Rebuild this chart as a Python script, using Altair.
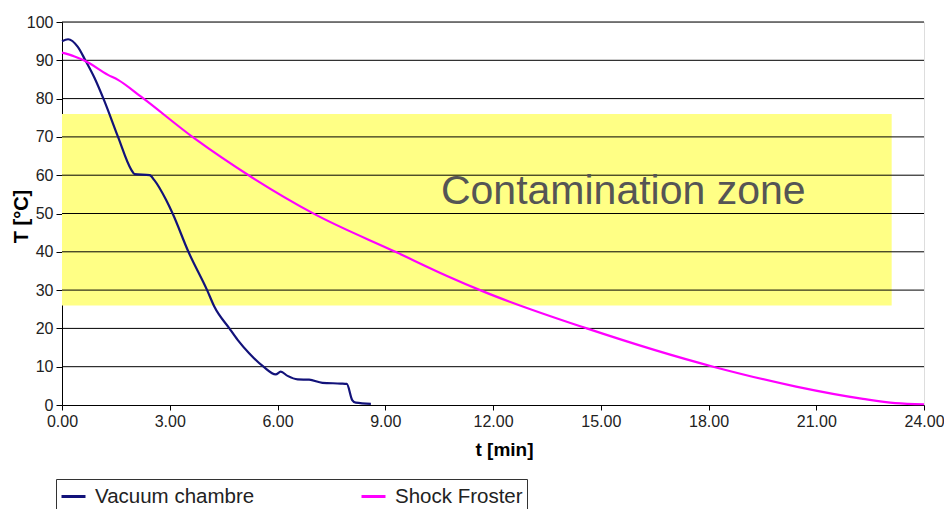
import altair as alt
import pandas as pd

vac_t = [0.0, 0.17, 0.44, 0.65, 0.9, 1.17, 1.56, 1.93, 2.02, 2.44, 2.57, 2.9, 3.08, 3.52, 4.04, 4.24, 4.66, 4.89, 5.21, 5.61, 5.95, 6.09, 6.28, 6.56, 6.88, 7.25, 7.76, 7.93, 8.08, 8.18, 8.6]
vac_T = [95.0, 95.5, 93.5, 90.0, 85.5, 79.6, 70.0, 61.4, 60.3, 60.0, 58.7, 53.5, 50.0, 40.0, 30.0, 25.7, 20.0, 17.0, 13.5, 10.0, 8.0, 8.7, 7.6, 6.7, 6.6, 5.8, 5.6, 5.5, 1.3, 0.6, 0.3]

sf_t = [0.0, 0.35, 0.65, 1.28, 1.56, 2.2, 3.69, 5.26, 7.02, 9.33, 10.72, 11.74, 14.61, 18.13, 20.44, 22.3, 23.2, 24.0]
sf_T = [92.0, 91.0, 89.8, 86.2, 84.9, 80.5, 69.6, 59.6, 49.9, 39.8, 33.7, 29.6, 20.0, 10.0, 4.8, 1.6, 0.5, 0.2]

zone_t = [0.0, 23.1]
zone_T = [26.0, 76.0]
zone_label = "Contamination zone"
label_t = 10.55
label_T = 55.6

grid_T = [10, 20, 30, 40, 50, 60, 70, 80, 90, 100]
x_ticks = [0, 3, 6, 9, 12, 15, 18, 21, 24]
y_ticks = [0, 10, 20, 30, 40, 50, 60, 70, 80, 90, 100]
series = ["Vacuum chambre", "Shock Froster"]
colors = ["#12127a", "#ff00ff"]

lines = pd.concat([
    pd.DataFrame({"t": vac_t, "T": vac_T, "series": series[0]}),
    pd.DataFrame({"t": sf_t, "T": sf_T, "series": series[1]}),
])

FONT = "Liberation Sans, Arial"
W = 862
H = 383

x_scale = alt.Scale(domain=[0, 24], nice=False)
y_scale = alt.Scale(domain=[0, 100], nice=False)

x_axis = alt.Axis(values=x_ticks, format=".2f", grid=False, labelFlush=False, labelOverlap=False,
                  domainColor="black", tickColor="black", tickSize=5,
                  labelFont=FONT, labelFontSize=16, labelColor="#222222", labelPadding=3,
                  titleFont=FONT, titleFontSize=19, titleFontWeight="bold",
                  titleColor="black", titleX=442, titleY=44, titleBaseline="middle")
y_axis = alt.Axis(values=y_ticks, grid=False, labelOverlap=False,
                  domainColor="black", tickColor="black", tickSize=6,
                  labelFont=FONT, labelFontSize=16, labelColor="#222222", labelPadding=3,
                  titleFont=FONT, titleFontSize=20, titleFontWeight="bold",
                  titleColor="black", titleX=-31, titleY=194)
X_TITLE = "t [min]"
Y_TITLE = "T [°C]"

zone = alt.Chart(pd.DataFrame({"t0": [zone_t[0]], "t1": [zone_t[1]], "T0": [zone_T[0]], "T1": [zone_T[1]]})).mark_rect(
    color="#ffff85"
).encode(
    x=alt.X("t0:Q", scale=x_scale, axis=x_axis, title=X_TITLE),
    x2="t1:Q",
    y=alt.Y("T0:Q", scale=y_scale, axis=y_axis, title=Y_TITLE),
    y2="T1:Q",
)

grid = alt.Chart(pd.DataFrame({"T": grid_T})).mark_rule(color="black", strokeWidth=1).encode(
    y=alt.Y("T:Q", scale=y_scale, axis=y_axis, title=Y_TITLE),
)

text = alt.Chart(pd.DataFrame({"t": [label_t], "T": [label_T], "label": [zone_label]})).mark_text(
    align="left", baseline="middle", fontSize=41, color="#555555", font=FONT
).encode(
    x=alt.X("t:Q", scale=x_scale, axis=x_axis, title=X_TITLE),
    y=alt.Y("T:Q", scale=y_scale, axis=y_axis, title=Y_TITLE),
    text="label:N",
)

line = alt.Chart(lines).mark_line(strokeWidth=2.2, interpolate="monotone").encode(
    x=alt.X("t:Q", scale=x_scale, axis=x_axis, title=X_TITLE),
    y=alt.Y("T:Q", scale=y_scale, axis=y_axis, title=Y_TITLE),
    color=alt.Color("series:N", scale=alt.Scale(domain=series, range=colors),
                    legend=alt.Legend(title=None, orient="none", legendX=-6, legendY=457,
                                      direction="horizontal", columns=2, columnPadding=100,
                                      gridAlign="all",
                                      symbolType="stroke", symbolStrokeWidth=3, symbolSize=576,
                                      labelOffset=8,
                                      labelFont=FONT, labelFontSize=20.5, labelColor="#222222",
                                      strokeColor="#333333", padding=4, labelLimit=300)),
)

chart = alt.layer(zone, grid, text, line).properties(
    width=W, height=H,
    autosize=alt.AutoSizeParams(type="none"),
    padding={"left": 54, "top": 14, "right": 20, "bottom": 104},
).configure_view(stroke=None).configure(background="white")

chart.save("out.html", embed_options={"renderer": "svg", "actions": False})
